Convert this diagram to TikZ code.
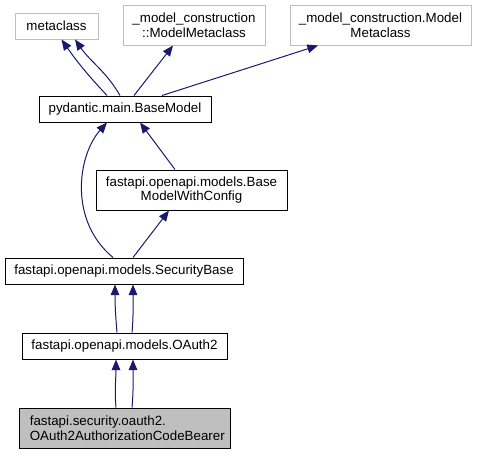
\documentclass[tikz,border=0pt]{standalone}
\usepackage{fontspec}
\setmainfont{Liberation Sans}
\usetikzlibrary{arrows.meta,calc,positioning}
\definecolor{edgeblue}{RGB}{25,25,112}
\definecolor{boxgray}{RGB}{191,191,191}

\begin{document}
\begin{tikzpicture}[x=0.75pt,y=-0.75pt,
  cls/.style={draw=black,line width=0.75pt,inner sep=0pt,font=\fontsize{10}{11}\selectfont,align=center},
  ext/.style={cls,draw=boxgray},
  self/.style={cls,fill=boxgray,align=left},
  edge/.style={draw=edgeblue,line width=0.75pt,-{Triangle[length=8pt,width=6.5pt]}}]
\useasboundingbox (0,0) rectangle (477,455);
% outer classes
\node[ext,minimum width=62.25pt,minimum height=19.5pt] (meta) at (56.5,26) {metaclass};
\node[ext,minimum width=106.5pt,minimum height=30pt] (mmc) at (194,25) {\_model\_construction\\::ModelMetaclass};
\node[ext,minimum width=135.75pt,minimum height=30pt] (mmcdot) at (380.5,25) {\_model\_construction.Model\\Metaclass};
% project classes
\node[cls,minimum width=129pt,minimum height=19.5pt] (bm) at (125,109) {pydantic.main.BaseModel};
\node[cls,minimum width=143.25pt,minimum height=30pt] (bmwc) at (191.5,190) {fastapi.openapi.models.Base\\ModelWithConfig};
\node[cls,minimum width=178.5pt,minimum height=19.5pt] (sb) at (124,271) {fastapi.openapi.models.SecurityBase};
\node[cls,minimum width=153.75pt,minimum height=19.5pt] (oa) at (124.5,346) {fastapi.openapi.models.OAuth2};
\node[self,minimum width=158.25pt,minimum height=30pt,text width=142pt] (bearer) at (124.5,428) {fastapi.security.oauth2.\\OAuth2AuthorizationCodeBearer};
% inheritance
\draw[edge] ($(bm.north)+(-18,0)$) to[bend left=4] ($(meta.south)+(5,0)$);
\draw[edge] ($(bm.north)+(-5,0)$) to[out=120,in=-55] ($(meta.south)+(18.5,0)$);
\draw[edge] ($(bm.north)+(9,0)$) -- ($(mmc.south)+(-21,0)$);
\draw[edge] ($(bm.north)+(37,0)$) -- ($(mmcdot.south)+(-62.5,0)$);
\draw[edge] ($(sb.north)+(-11,0)$) .. controls (68,220) and (78,155) .. ($(bm.south)+(-18,0)$);
\draw[edge] ($(bmwc.north)+(-16.5,0)$) -- ($(bm.south)+(15,0)$);
\draw[edge] ($(sb.north)+(9,0)$) -- ($(bmwc.south)+(-22.5,0)$);
\draw[edge] ($(oa.north)+(-7.5,0)$) to[out=95,in=-90] ($(sb.south)+(-9,0)$);
\draw[edge] ($(oa.north)+(7.5,0)$) to[out=85,in=-90] ($(sb.south)+(9,0)$);
\draw[edge] ($(bearer.north)+(-8.5,0)$) to[out=95,in=-90] ($(oa.south)+(-8.5,0)$);
\draw[edge] ($(bearer.north)+(7.5,0)$) to[out=85,in=-90] ($(oa.south)+(8.5,0)$);
\end{tikzpicture}
\end{document}
